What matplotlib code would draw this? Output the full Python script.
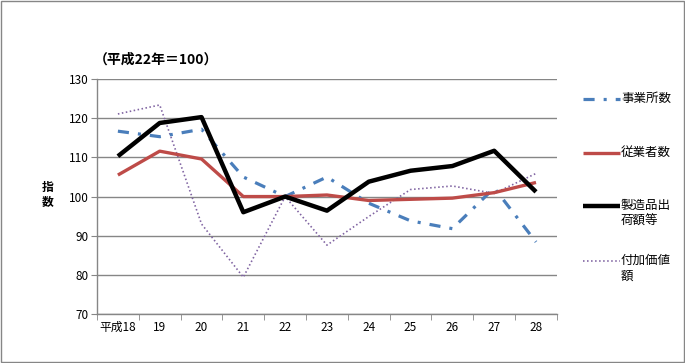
import matplotlib
matplotlib.use("Agg")
import matplotlib.pyplot as plt
from matplotlib.lines import Line2D
from matplotlib.patches import Rectangle

plt.rcParams['font.family'] = ['Noto Sans CJK JP', 'DejaVu Sans']
plt.rcParams['lines.scale_dashes'] = False

categories = ["平成18", "19", "20", "21", "22", "23", "24", "25", "26", "27", "28"]
establishments = [116.7, 115.3, 117.2, 105.0, 100.0, 105.0, 98.3, 93.8, 91.8, 102.2, 88.4]
employees = [105.5, 111.6, 109.6, 100.0, 100.0, 100.4, 99.0, 99.3, 99.6, 101.0, 103.6]
shipments = [110.3, 118.8, 120.3, 96.0, 100.0, 96.4, 103.8, 106.6, 107.8, 111.7, 101.2]
value_added = [121.1, 123.4, 93.0, 79.4, 100.0, 87.6, 94.9, 101.8, 102.7, 100.8, 105.9]
series_labels = ["事業所数", "従業者数", "製造品出\n荷額等", "付加価値\n額"]
yticks = [70, 80, 90, 100, 110, 120, 130]

colors = ["#4A7EBB", "#BE4B48", "#000000", "#8064A2"]

fig = plt.figure(figsize=(6.85, 3.63), dpi=100)
ax = fig.add_axes([0.1416, 0.135, 0.6714, 0.647])

x = list(range(len(categories)))
styles = [
    dict(color=colors[0], lw=2.3, dashes=(8, 6.5, 2.2, 6.5)),
    dict(color=colors[1], lw=2.4),
    dict(color=colors[2], lw=3.2),
    dict(color=colors[3], lw=1.2, dashes=(1.1, 1.8)),
]
data = [establishments, employees, shipments, value_added]
order = [3, 0, 1, 2]
for i in order:
    kw = dict(styles[i])
    dashes = kw.pop('dashes', None)
    line, = ax.plot(x, data[i], solid_capstyle='butt', **kw)
    if dashes:
        line.set_dashes(dashes)
        line.set_dash_capstyle('butt')

ax.set_xlim(-0.5, len(categories) - 0.5)
ax.set_ylim(70, 130)
ax.set_yticks(yticks)
ax.set_yticklabels([str(v) for v in yticks], fontsize=8.5)
ax.set_xticks(x)
ax.set_xticklabels(categories, fontsize=8.5)
ax.tick_params(axis='x', length=0, pad=5)
ax.set_xticks([i - 0.5 for i in range(len(categories) + 1)], minor=True)
ax.tick_params(axis='x', which='minor', length=4, color='#868686', direction='out')
ax.tick_params(axis='y', length=4, color='#868686', direction='out', pad=2)
ax.grid(axis='y', color='#868686', lw=1)
ax.set_axisbelow(True)
for s in ['top', 'right']:
    ax.spines[s].set_visible(False)
for s in ['left', 'bottom']:
    ax.spines[s].set_color('#868686')
    ax.spines[s].set_linewidth(1)

fig.text(94 / 685, 1 - 60 / 363, "（平成22年＝100）", fontsize=10, fontweight='bold', va='center', ha='left')
fig.text(48 / 685, 1 - 195 / 363, "指\n数", fontsize=8.5, fontweight='bold', va='center', ha='center', linespacing=1.1)

# legend
leg_y = [99, 153, 206, 261]
for i in range(4):
    y = 1 - leg_y[i] / 363
    kw = dict(styles[i])
    dashes = kw.pop('dashes', None)
    ln = Line2D([583 / 685, 620 / 685], [y, y], transform=fig.transFigure, **kw)
    ln.set_solid_capstyle('butt')
    if dashes:
        ln.set_dashes(dashes)
        ln.set_dash_capstyle('butt')
    fig.add_artist(ln)
    fig.text(621 / 685, y + 7 / 363, series_labels[i], fontsize=9, va='top', ha='left', linespacing=1.3)

fig.add_artist(Rectangle((0.001, 0.002), 0.997, 0.996, transform=fig.transFigure,
                         fill=False, edgecolor='#868686', lw=1))

fig.savefig("out.png", dpi=100)
